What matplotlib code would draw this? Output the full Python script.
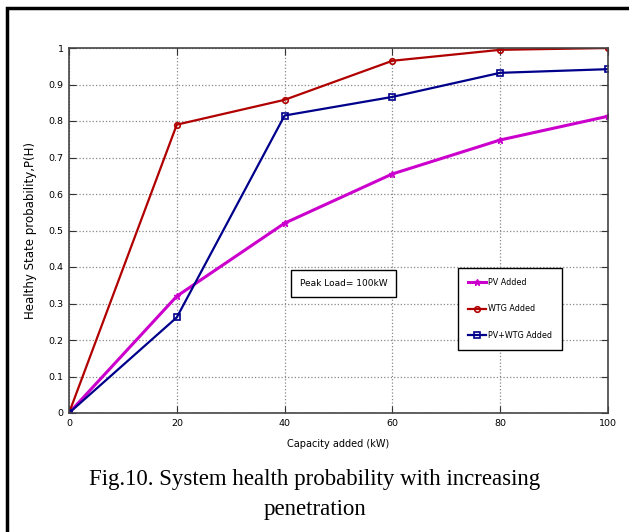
import matplotlib.pyplot as plt
from matplotlib.patches import Rectangle
from matplotlib import font_manager

# ---------------- DATA ----------------
capacity = [0, 20, 40, 60, 80, 100]
pv_added = [0, 0.32, 0.52, 0.655, 0.748, 0.813]
wtg_added = [0, 0.79, 0.858, 0.965, 0.995, 1.0]
pv_wtg_added = [0, 0.262, 0.815, 0.866, 0.932, 0.942]
x_ticks = [0, 20, 40, 60, 80, 100]
y_ticks = [0, 0.1, 0.2, 0.3, 0.4, 0.5, 0.6, 0.7, 0.8, 0.9, 1]
y_tick_labels = ["0", "0.1", "0.2", "0.3", "0.4", "0.5", "0.6", "0.7", "0.8", "0.9", "1"]
# ---------------------------------------

names = {f.name for f in font_manager.fontManager.ttflist}
NARROW = "Liberation Sans Narrow" if "Liberation Sans Narrow" in names else "DejaVu Sans"

fig = plt.figure(figsize=(6.29, 5.32), dpi=100)
W, H = 629, 532

# outer frame around figure + caption
fig.patches.append(Rectangle((7 / W, -0.05), 1.2, 1 - 8 / H + 0.05,
                             transform=fig.transFigure, fill=False,
                             edgecolor="black", linewidth=2.5))

ax = fig.add_axes([69 / W, 119 / H, 539 / W, 365 / H])

ax.plot(capacity, pv_added, color="#CC00CC", lw=2.2, marker="*", ms=5,
        label="PV Added")
ax.plot(capacity, wtg_added, color="#B00000", lw=1.6, marker="o", ms=4,
        mfc="none", mew=1.2, label="WTG Added")
ax.plot(capacity, pv_wtg_added, color="#00008B", lw=1.6, marker="s", ms=5,
        mfc="none", mew=1.2, label="PV+WTG Added")

ax.set_xlim(0, 100)
ax.set_ylim(0, 1)
ax.set_xticks(x_ticks)
ax.set_yticks(y_ticks)
ax.set_yticklabels(y_tick_labels)
ax.tick_params(direction="in", top=True, right=True, length=5,
               labelsize=6.8, colors="#333333", pad=4)
for lab in ax.get_xticklabels() + ax.get_yticklabels():
    lab.set_family(NARROW)
    lab.set_color("black")
ax.grid(True, linestyle=":", color="#888888", linewidth=0.9)
for s in ax.spines.values():
    s.set_color("#444444")
    s.set_linewidth(1.2)

ax.set_xlabel("Capacity added (kW)", family=NARROW, fontsize=7, labelpad=8)
ax.set_ylabel("Healthy State probability,P(H)", fontsize=8.5, labelpad=8)

ax.text(0.428, 0.354, "Peak Load= 100kW", transform=ax.transAxes,
        family=NARROW, fontsize=6.5, va="center", ha="left",
        bbox=dict(boxstyle="square,pad=1.0", fc="white", ec="black", lw=1))

leg = ax.legend(loc="upper left", bbox_to_anchor=(0.722, 0.397),
                prop={"family": NARROW, "size": 5.8}, fancybox=False,
                edgecolor="black", framealpha=1, labelspacing=2.2,
                handlelength=2.3, borderpad=1.2, handletextpad=0.2,
                borderaxespad=0)
leg.get_frame().set_linewidth(1)

fig.text(0.5, 52 / H, "Fig.10. System health probability with increasing",
         ha="center", va="center", family=["Liberation Serif", "DejaVu Serif"],
         fontsize=16.5)
fig.text(0.5, 22 / H, "penetration",
         ha="center", va="center", family=["Liberation Serif", "DejaVu Serif"],
         fontsize=16.5)

fig.savefig("out.png", dpi=100)
